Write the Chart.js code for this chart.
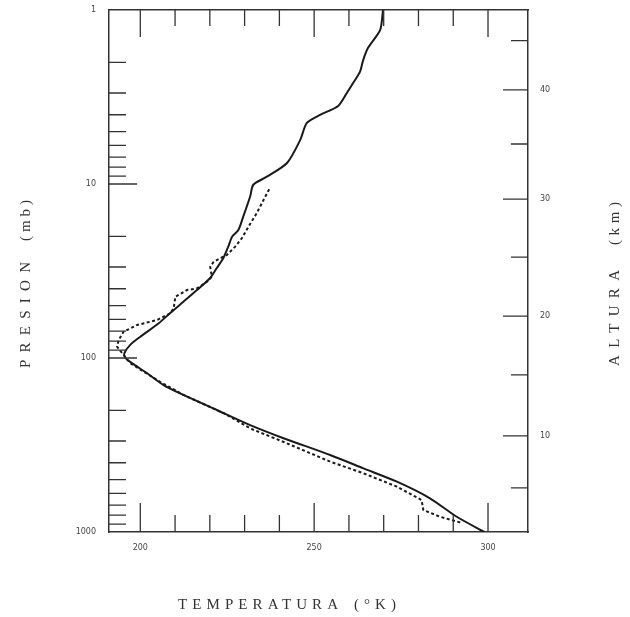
<!DOCTYPE html>
<html>
<head>
<meta charset="utf-8">
<script src="https://cdn.jsdelivr.net/npm/chart.js@4.4.1/dist/chart.umd.min.js"></script>
<style>
html,body{margin:0;padding:0;background:#fff;}
#wrap{width:630px;height:617px;}
</style>
</head>
<body>
<div id="wrap"><canvas id="c" width="630" height="617"></canvas></div>
<script>
// ---- data ----
const temperatureTicks = [200,210,220,230,240,250,260,270,280,290,300];
const temperatureLabels = [200,250,300];
const pressureLabels = [1,10,100,1000];
const pressureTicks = [2,3,4,5,6,7,8,9,10,20,30,40,50,60,70,80,90,100,200,300,400,500,600,700,800,900];
const altitudeKm = [5,10,15,20,25,30,35,40,45];
const altitudePressure = [558,280,125,57.4,26.3,12.2,5.89,2.88,1.50];

// solid curve (temperature K, pressure mb), surface upward
const solidT = [299.0,291.0,283.3,273.8,264.2,254.6,241.2,231.6,222.0,212.4,206.7,201.9,197.6,195.7,195.4,197.1,200.0,205.3,208.6,212.4,216.3,220.1,222.0,223.9,225.3,226.4,228.2,229.6,231.6,232.5,236.4,242.2,246.0,247.9,251.7,256.9,259.4,261.2,263.2,264.1,265.5,269.0,269.8];
const solidP = [1000,817,640,514,431,361,289,243,199,163,143,122,107,100,94,84,75.5,63.2,55.1,47.5,40.7,34.7,30.4,26.6,22.9,20.1,18.4,15.4,11.8,10.1,9.08,7.57,5.58,4.46,4.01,3.56,3.00,2.63,2.26,1.94,1.65,1.30,1.0];

// dashed curve
const dashT = [292.0,286.2,281.4,280.9,273.8,264.2,254.6,241.1,231.6,223.9,212.4,205.7,201.0,197.1,195.2,193.3,193.8,195.2,199.1,204.8,208.6,209.6,210.1,213.4,216.3,219.2,220.6,220.1,221.1,223.0,224.9,227.3,229.2,231.1,233.5,235.4,237.4];
const dashP = [881,817,748,655,549,460,394,303,254,207,163,137,120,107,96,86,78.8,70.6,64.6,60.5,55.4,51.8,44.4,40.7,39.8,36.4,34.1,29.9,28.0,26.7,25.6,22.9,20.5,17.6,14.7,12.4,10.4];

const titleY = ['PRESION', '(mb)'];
const titleY2 = ['ALTURA', '(km)'];
const titleX = ['TEMPERATURA', '(°K)'];

const toPts = (xs, ys) => xs.map((v, i) => ({x: v, y: ys[i]}));

// draws one word so that it spans exactly `width` pixels, starting at `start` along the text direction
function drawWord(ctx, text, ox, oy, angle, start, width) {
  ctx.save();
  ctx.translate(ox, oy);
  ctx.rotate(angle);
  ctx.font = '15px "Liberation Serif", "DejaVu Serif", serif';
  ctx.fillStyle = '#333';
  ctx.letterSpacing = '0px';
  const w = ctx.measureText(text).width;
  const ls = Math.max(0, (width - w) / (text.length - 1));
  ctx.letterSpacing = ls + 'px';
  ctx.textAlign = 'left';
  ctx.textBaseline = 'middle';
  ctx.fillText(text, start, 0);
  ctx.restore();
}

const insideTicks = {
  id: 'insideTicks',
  afterDraw(chart) {
    const {ctx, chartArea: {left, right, top, bottom}, scales: {x, y, y2}} = chart;
    ctx.save();
    ctx.strokeStyle = '#333';
    ctx.lineWidth = 1.3;
    ctx.beginPath();
    temperatureTicks.forEach(t => {
      const px = x.getPixelForValue(t);
      const major = temperatureLabels.includes(t);
      ctx.moveTo(px, bottom); ctx.lineTo(px, bottom - (major ? 29 : 17));
      ctx.moveTo(px, top); ctx.lineTo(px, top + (major ? 27 : 16));
    });
    pressureTicks.forEach(p => {
      const py = y.getPixelForValue(p);
      const major = pressureLabels.includes(p);
      ctx.moveTo(left, py); ctx.lineTo(left + (major ? 28 : 17), py);
    });
    altitudeKm.forEach((k, i) => {
      const py = y2.getPixelForValue(altitudePressure[i]);
      const major = k % 10 === 0;
      ctx.moveTo(right, py); ctx.lineTo(right - (major ? 25 : 17), py);
    });
    ctx.stroke();
    ctx.restore();
    // left title: rotated, reading bottom to top (start measured from y=368 upward)
    drawWord(ctx, titleY[0], 26, 368, -Math.PI / 2, 0, 106);
    drawWord(ctx, titleY[1], 26, 368, -Math.PI / 2, 127, 41);
    drawWord(ctx, titleY2[0], 615, 366, -Math.PI / 2, 0, 96);
    drawWord(ctx, titleY2[1], 615, 366, -Math.PI / 2, 121, 43);
    drawWord(ctx, titleX[0], 178, 605, 0, 0, 160);
    drawWord(ctx, titleX[1], 178, 605, 0, 176, 42);
  }
};

const tickFont = {family: 'DejaVu Sans', size: 8};

new Chart(document.getElementById('c'), {
  type: 'scatter',
  data: {
    datasets: [
      {data: toPts(solidT, solidP), showLine: true, borderColor: '#1a1a1a', borderWidth: 2, pointRadius: 0, tension: 0.25, fill: false},
      {data: toPts(dashT, dashP), showLine: true, borderColor: '#1a1a1a', borderWidth: 2, borderDash: [3, 2.5], pointRadius: 0, tension: 0, fill: false}
    ]
  },
  options: {
    responsive: false,
    devicePixelRatio: 1,
    animation: false,
    layout: {padding: 0},
    plugins: {legend: {display: false}, tooltip: {enabled: false}},
    scales: {
      x: {
        type: 'linear', position: 'bottom', min: 191, max: 311.5,
        grid: {display: false},
        border: {display: true, color: '#333', width: 1.5},
        afterBuildTicks: s => { s.ticks = temperatureLabels.map(v => ({value: v})); },
        afterFit: s => { s.height = 85; },
        ticks: {autoSkip: false, maxRotation: 0, padding: 3, color: '#444', font: tickFont, callback: v => String(v)}
      },
      x2: {
        type: 'linear', position: 'top', min: 191, max: 311.5,
        grid: {display: false},
        border: {display: true, color: '#333', width: 1.5},
        afterFit: s => { s.height = 10; },
        ticks: {display: false}
      },
      y: {
        type: 'logarithmic', position: 'left', min: 1, max: 1000, reverse: true,
        grid: {display: false},
        border: {display: true, color: '#333', width: 1.5},
        afterBuildTicks: s => { s.ticks = pressureLabels.map(v => ({value: v})); },
        afterFit: s => { s.width = 109; },
        ticks: {autoSkip: false, padding: 5, color: '#444', font: tickFont, callback: v => String(v)}
      },
      y2: {
        type: 'logarithmic', position: 'right', min: 1, max: 1000, reverse: true,
        grid: {display: false},
        border: {display: true, color: '#333', width: 1.5},
        afterBuildTicks: s => { s.ticks = altitudePressure.map(v => ({value: v})); },
        afterFit: s => { s.width = 102; },
        ticks: {autoSkip: false, padding: 4, color: '#444', font: tickFont,
          callback: (v, i) => (altitudeKm[i] % 10 === 0 ? String(altitudeKm[i]) : '')}
      }
    }
  },
  plugins: [insideTicks]
});
</script>
</body>
</html>
